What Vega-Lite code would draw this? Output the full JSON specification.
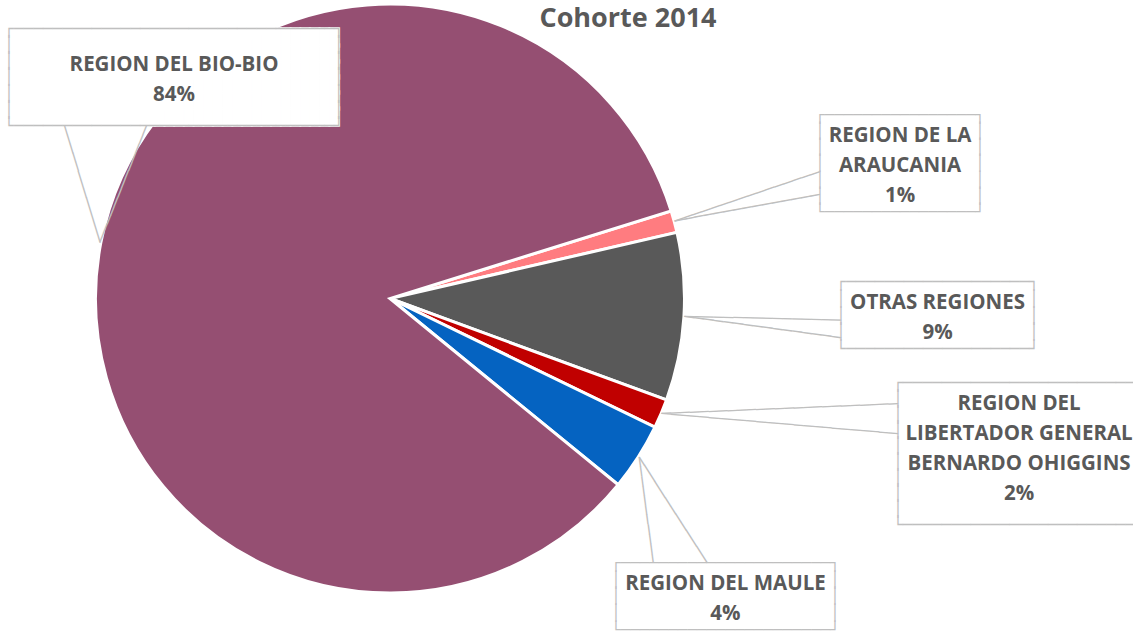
{
  "$schema": "https://vega.github.io/schema/vega-lite/v6.json",
  "width": 780,
  "height": 597,
  "autosize": {"type": "none"},
  "padding": {"left": 0, "top": 0, "right": 353, "bottom": 34},
  "background": "white",
  "config": {"view": {"stroke": null}},
  "title": {"text": "Cohorte 2014", "font": "Open Sans", "fontSize": 27, "fontWeight": "bold", "color": "#595959", "anchor": "middle", "frame": "group", "offset": 0, "baseline": "alphabetic", "dx": 238, "dy": 56},
  "data": {"values": [
    {"region": "REGION DE LA ARAUCANIA", "lineas": "REGION DE LA|ARAUCANIA", "valor": 1.2, "orden": 1},
    {"region": "OTRAS REGIONES", "lineas": "OTRAS REGIONES", "valor": 9.2, "orden": 2},
    {"region": "REGION DEL LIBERTADOR GENERAL BERNARDO OHIGGINS", "lineas": "REGION DEL|LIBERTADOR GENERAL|BERNARDO OHIGGINS", "valor": 1.6, "orden": 3},
    {"region": "REGION DEL MAULE", "lineas": "REGION DEL MAULE", "valor": 3.7, "orden": 4},
    {"region": "REGION DEL BIO-BIO", "lineas": "REGION DEL BIO-BIO", "valor": 84.3, "orden": 5}
  ]},
  "transform": [
    {"stack": "valor", "groupby": [], "sort": [{"field": "orden", "order": "ascending"}], "as": ["t0", "t1"]},
    {"calculate": "(datum.t0 + datum.t1) / 2", "as": "mid"},
    {"calculate": "split(datum.lineas + '|' + format(datum.valor / 100, '.0%'), '|')", "as": "etiqueta"}
  ],
  "layer": [
    {
      "mark": {"type": "arc", "outerRadius": 294.5, "stroke": "white", "strokeWidth": 3},
      "encoding": {
        "theta": {"field": "t0", "type": "quantitative", "stack": null, "scale": {"domain": [0, 100], "range": [1.2689, 7.5521]}},
        "theta2": {"field": "t1"},
        "color": {"field": "region", "type": "nominal", "legend": null,
          "scale": {"domain": ["REGION DE LA ARAUCANIA", "OTRAS REGIONES", "REGION DEL LIBERTADOR GENERAL BERNARDO OHIGGINS", "REGION DEL MAULE", "REGION DEL BIO-BIO"],
                    "range": ["#FF7C80", "#595959", "#C00000", "#0563C1", "#954F72"]}}
      }
    },
    {
      "transform": [{"filter": "datum.orden == 5"}],
      "mark": {"type": "text", "font": "DejaVu Sans Mono", "fontSize": 16.12, "lineHeight": 15.65, "fill": "white", "stroke": "white", "strokeWidth": 1.5, "align": "center", "baseline": "middle", "radius": 309.0, "thetaOffset": 0.6056, "dy": -39.1},
      "encoding": {"theta": {"field": "mid", "type": "quantitative"}, "text": {"value": [
        "██████████████████████████████████",
        "██████████████████████████████████",
        "██████████████████████████████████",
        "██████████████████████████████████",
        "██████████████████████████████████",
        "██████████████████████████████████"
      ]}}
    },
    {
      "transform": [{"filter": "datum.orden == 5"}],
      "mark": {"type": "text", "font": "DejaVu Sans Mono", "fontSize": 16.12, "lineHeight": 16.17, "fill": "#BFBFBF", "align": "center", "baseline": "middle", "radius": 309.0, "thetaOffset": 0.6056, "dy": -48.5},
      "encoding": {"theta": {"field": "mid", "type": "quantitative"}, "text": {"value": [
        "┌─────────────────────────────────┐",
        "│\u00a0\u00a0\u00a0\u00a0\u00a0\u00a0\u00a0\u00a0\u00a0\u00a0\u00a0\u00a0\u00a0\u00a0\u00a0\u00a0\u00a0\u00a0\u00a0\u00a0\u00a0\u00a0\u00a0\u00a0\u00a0\u00a0\u00a0\u00a0\u00a0\u00a0\u00a0\u00a0\u00a0│",
        "│\u00a0\u00a0\u00a0\u00a0\u00a0\u00a0\u00a0\u00a0\u00a0\u00a0\u00a0\u00a0\u00a0\u00a0\u00a0\u00a0\u00a0\u00a0\u00a0\u00a0\u00a0\u00a0\u00a0\u00a0\u00a0\u00a0\u00a0\u00a0\u00a0\u00a0\u00a0\u00a0\u00a0│",
        "│\u00a0\u00a0\u00a0\u00a0\u00a0\u00a0\u00a0\u00a0\u00a0\u00a0\u00a0\u00a0\u00a0\u00a0\u00a0\u00a0\u00a0\u00a0\u00a0\u00a0\u00a0\u00a0\u00a0\u00a0\u00a0\u00a0\u00a0\u00a0\u00a0\u00a0\u00a0\u00a0\u00a0│",
        "│\u00a0\u00a0\u00a0\u00a0\u00a0\u00a0\u00a0\u00a0\u00a0\u00a0\u00a0\u00a0\u00a0\u00a0\u00a0\u00a0\u00a0\u00a0\u00a0\u00a0\u00a0\u00a0\u00a0\u00a0\u00a0\u00a0\u00a0\u00a0\u00a0\u00a0\u00a0\u00a0\u00a0│",
        "│\u00a0\u00a0\u00a0\u00a0\u00a0\u00a0\u00a0\u00a0\u00a0\u00a0\u00a0\u00a0\u00a0\u00a0\u00a0\u00a0\u00a0\u00a0\u00a0\u00a0\u00a0\u00a0\u00a0\u00a0\u00a0\u00a0\u00a0\u00a0\u00a0\u00a0\u00a0\u00a0\u00a0│",
        "└─────────────────────────────────┘"
      ]}}
    },
    {
      "transform": [{"filter": "datum.orden == 1"}],
      "mark": {"type": "text", "font": "DejaVu Sans Mono", "fontSize": 15.63, "lineHeight": 16.17, "fill": "#BFBFBF", "align": "center", "baseline": "middle", "radius": 527.6, "thetaOffset": 0.0054, "dy": -48.5},
      "encoding": {"theta": {"field": "mid", "type": "quantitative"}, "text": {"value": [
        "┌────────────────┐",
        "│\u00a0\u00a0\u00a0\u00a0\u00a0\u00a0\u00a0\u00a0\u00a0\u00a0\u00a0\u00a0\u00a0\u00a0\u00a0\u00a0│",
        "│\u00a0\u00a0\u00a0\u00a0\u00a0\u00a0\u00a0\u00a0\u00a0\u00a0\u00a0\u00a0\u00a0\u00a0\u00a0\u00a0│",
        "│\u00a0\u00a0\u00a0\u00a0\u00a0\u00a0\u00a0\u00a0\u00a0\u00a0\u00a0\u00a0\u00a0\u00a0\u00a0\u00a0│",
        "│\u00a0\u00a0\u00a0\u00a0\u00a0\u00a0\u00a0\u00a0\u00a0\u00a0\u00a0\u00a0\u00a0\u00a0\u00a0\u00a0│",
        "│\u00a0\u00a0\u00a0\u00a0\u00a0\u00a0\u00a0\u00a0\u00a0\u00a0\u00a0\u00a0\u00a0\u00a0\u00a0\u00a0│",
        "└────────────────┘"
      ]}}
    },
    {
      "transform": [{"filter": "datum.orden == 2"}],
      "mark": {"type": "text", "font": "DejaVu Sans Mono", "fontSize": 16.03, "lineHeight": 16.75, "fill": "#BFBFBF", "align": "center", "baseline": "middle", "radius": 547.8, "thetaOffset": -0.0314, "dy": -33.5},
      "encoding": {"theta": {"field": "mid", "type": "quantitative"}, "text": {"value": [
        "┌───────────────────┐",
        "│\u00a0\u00a0\u00a0\u00a0\u00a0\u00a0\u00a0\u00a0\u00a0\u00a0\u00a0\u00a0\u00a0\u00a0\u00a0\u00a0\u00a0\u00a0\u00a0│",
        "│\u00a0\u00a0\u00a0\u00a0\u00a0\u00a0\u00a0\u00a0\u00a0\u00a0\u00a0\u00a0\u00a0\u00a0\u00a0\u00a0\u00a0\u00a0\u00a0│",
        "│\u00a0\u00a0\u00a0\u00a0\u00a0\u00a0\u00a0\u00a0\u00a0\u00a0\u00a0\u00a0\u00a0\u00a0\u00a0\u00a0\u00a0\u00a0\u00a0│",
        "└───────────────────┘"
      ]}}
    },
    {
      "transform": [{"filter": "datum.orden == 3"}],
      "mark": {"type": "text", "font": "DejaVu Sans Mono", "fontSize": 16.08, "lineHeight": 15.75, "fill": "#BFBFBF", "align": "center", "baseline": "middle", "radius": 646.1, "thetaOffset": -0.1714, "dy": -63},
      "encoding": {"theta": {"field": "mid", "type": "quantitative"}, "text": {"value": [
        "┌────────────────────────┐",
        "│\u00a0\u00a0\u00a0\u00a0\u00a0\u00a0\u00a0\u00a0\u00a0\u00a0\u00a0\u00a0\u00a0\u00a0\u00a0\u00a0\u00a0\u00a0\u00a0\u00a0\u00a0\u00a0\u00a0\u00a0│",
        "│\u00a0\u00a0\u00a0\u00a0\u00a0\u00a0\u00a0\u00a0\u00a0\u00a0\u00a0\u00a0\u00a0\u00a0\u00a0\u00a0\u00a0\u00a0\u00a0\u00a0\u00a0\u00a0\u00a0\u00a0│",
        "│\u00a0\u00a0\u00a0\u00a0\u00a0\u00a0\u00a0\u00a0\u00a0\u00a0\u00a0\u00a0\u00a0\u00a0\u00a0\u00a0\u00a0\u00a0\u00a0\u00a0\u00a0\u00a0\u00a0\u00a0│",
        "│\u00a0\u00a0\u00a0\u00a0\u00a0\u00a0\u00a0\u00a0\u00a0\u00a0\u00a0\u00a0\u00a0\u00a0\u00a0\u00a0\u00a0\u00a0\u00a0\u00a0\u00a0\u00a0\u00a0\u00a0│",
        "│\u00a0\u00a0\u00a0\u00a0\u00a0\u00a0\u00a0\u00a0\u00a0\u00a0\u00a0\u00a0\u00a0\u00a0\u00a0\u00a0\u00a0\u00a0\u00a0\u00a0\u00a0\u00a0\u00a0\u00a0│",
        "│\u00a0\u00a0\u00a0\u00a0\u00a0\u00a0\u00a0\u00a0\u00a0\u00a0\u00a0\u00a0\u00a0\u00a0\u00a0\u00a0\u00a0\u00a0\u00a0\u00a0\u00a0\u00a0\u00a0\u00a0│",
        "│\u00a0\u00a0\u00a0\u00a0\u00a0\u00a0\u00a0\u00a0\u00a0\u00a0\u00a0\u00a0\u00a0\u00a0\u00a0\u00a0\u00a0\u00a0\u00a0\u00a0\u00a0\u00a0\u00a0\u00a0│",
        "│\u00a0\u00a0\u00a0\u00a0\u00a0\u00a0\u00a0\u00a0\u00a0\u00a0\u00a0\u00a0\u00a0\u00a0\u00a0\u00a0\u00a0\u00a0\u00a0\u00a0\u00a0\u00a0\u00a0\u00a0│",
        "└────────────────────────┘"
      ]}}
    },
    {
      "transform": [{"filter": "datum.orden == 4"}],
      "mark": {"type": "text", "font": "DejaVu Sans Mono", "fontSize": 15.82, "lineHeight": 16.75, "fill": "#BFBFBF", "align": "center", "baseline": "middle", "radius": 448.7, "thetaOffset": 0.158, "dy": -33.5},
      "encoding": {"theta": {"field": "mid", "type": "quantitative"}, "text": {"value": [
        "┌──────────────────────┐",
        "│\u00a0\u00a0\u00a0\u00a0\u00a0\u00a0\u00a0\u00a0\u00a0\u00a0\u00a0\u00a0\u00a0\u00a0\u00a0\u00a0\u00a0\u00a0\u00a0\u00a0\u00a0\u00a0│",
        "│\u00a0\u00a0\u00a0\u00a0\u00a0\u00a0\u00a0\u00a0\u00a0\u00a0\u00a0\u00a0\u00a0\u00a0\u00a0\u00a0\u00a0\u00a0\u00a0\u00a0\u00a0\u00a0│",
        "│\u00a0\u00a0\u00a0\u00a0\u00a0\u00a0\u00a0\u00a0\u00a0\u00a0\u00a0\u00a0\u00a0\u00a0\u00a0\u00a0\u00a0\u00a0\u00a0\u00a0\u00a0\u00a0│",
        "└──────────────────────┘"
      ]}}
    },
    {
      "transform": [{"filter": "datum.orden == 1"}],
      "mark": {"type": "text", "font": "DejaVu Sans Mono", "fontSize": 15.93, "fill": "#BFBFBF", "align": "left", "baseline": "middle", "radius": 295, "angle": 341.21},
      "encoding": {"theta": {"field": "mid", "type": "quantitative"}, "text": {"value": "────────────────"}}
    },
    {
      "transform": [{"filter": "datum.orden == 1"}],
      "mark": {"type": "text", "font": "DejaVu Sans Mono", "fontSize": 16.34, "fill": "#BFBFBF", "align": "left", "baseline": "middle", "radius": 295, "angle": 349.7},
      "encoding": {"theta": {"field": "mid", "type": "quantitative"}, "text": {"value": "───────────────"}}
    },
    {
      "transform": [{"filter": "datum.orden == 2"}],
      "mark": {"type": "text", "font": "DejaVu Sans Mono", "fontSize": 16.26, "fill": "#BFBFBF", "align": "left", "baseline": "middle", "radius": 295, "angle": 1.39},
      "encoding": {"theta": {"field": "mid", "type": "quantitative"}, "text": {"value": "────────────────"}}
    },
    {
      "transform": [{"filter": "datum.orden == 2"}],
      "mark": {"type": "text", "font": "DejaVu Sans Mono", "fontSize": 16.41, "fill": "#BFBFBF", "align": "left", "baseline": "middle", "radius": 295, "angle": 7.78},
      "encoding": {"theta": {"field": "mid", "type": "quantitative"}, "text": {"value": "────────────────"}}
    },
    {
      "transform": [{"filter": "datum.orden == 3"}],
      "mark": {"type": "text", "font": "DejaVu Sans Mono", "fontSize": 15.73, "fill": "#BFBFBF", "align": "left", "baseline": "middle", "radius": 295, "angle": 357.63},
      "encoding": {"theta": {"field": "mid", "type": "quantitative"}, "text": {"value": "─────────────────────────"}}
    },
    {
      "transform": [{"filter": "datum.orden == 3"}],
      "mark": {"type": "text", "font": "DejaVu Sans Mono", "fontSize": 15.77, "fill": "#BFBFBF", "align": "left", "baseline": "middle", "radius": 295, "angle": 4.88},
      "encoding": {"theta": {"field": "mid", "type": "quantitative"}, "text": {"value": "─────────────────────────"}}
    },
    {
      "transform": [{"filter": "datum.orden == 4"}],
      "mark": {"type": "text", "font": "DejaVu Sans Mono", "fontSize": 16.1, "fill": "#BFBFBF", "align": "left", "baseline": "middle", "radius": 295, "angle": 82.4},
      "encoding": {"theta": {"field": "mid", "type": "quantitative"}, "text": {"value": "───────────"}}
    },
    {
      "transform": [{"filter": "datum.orden == 4"}],
      "mark": {"type": "text", "font": "DejaVu Sans Mono", "fontSize": 16.06, "fill": "#BFBFBF", "align": "left", "baseline": "middle", "radius": 295, "angle": 57.2},
      "encoding": {"theta": {"field": "mid", "type": "quantitative"}, "text": {"value": "─────────────"}}
    },
    {
      "transform": [{"filter": "datum.orden == 5"}],
      "mark": {"type": "text", "font": "DejaVu Sans Mono", "fontSize": 15.55, "fill": "#BFBFBF", "align": "left", "baseline": "middle", "radius": 295, "angle": 253.1},
      "encoding": {"theta": {"field": "mid", "type": "quantitative"}, "text": {"value": "─────────────"}}
    },
    {
      "transform": [{"filter": "datum.orden == 5"}],
      "mark": {"type": "text", "font": "DejaVu Sans Mono", "fontSize": 16.02, "fill": "#BFBFBF", "align": "left", "baseline": "middle", "radius": 295, "angle": 291.8},
      "encoding": {"theta": {"field": "mid", "type": "quantitative"}, "text": {"value": "─────────────"}}
    },
    {
      "transform": [{"filter": "datum.orden == 1"}],
      "mark": {"type": "text", "font": "Open Sans", "fontWeight": "bold", "fontSize": 20.5, "lineHeight": 30, "fill": "#595959", "align": "center", "baseline": "middle", "radius": 527.6, "thetaOffset": 0.0054, "dy": -27.5},
      "encoding": {"theta": {"field": "mid", "type": "quantitative"}, "text": {"field": "etiqueta"}}
    },
    {
      "transform": [{"filter": "datum.orden == 2"}],
      "mark": {"type": "text", "font": "Open Sans", "fontWeight": "bold", "fontSize": 20.5, "lineHeight": 30, "fill": "#595959", "align": "center", "baseline": "middle", "radius": 547.8, "thetaOffset": -0.0314, "dy": -12.5},
      "encoding": {"theta": {"field": "mid", "type": "quantitative"}, "text": {"field": "etiqueta"}}
    },
    {
      "transform": [{"filter": "datum.orden == 3"}],
      "mark": {"type": "text", "font": "Open Sans", "fontWeight": "bold", "fontSize": 20.5, "lineHeight": 30, "fill": "#595959", "align": "center", "baseline": "middle", "radius": 646.1, "thetaOffset": -0.1714, "dy": -42.5},
      "encoding": {"theta": {"field": "mid", "type": "quantitative"}, "text": {"field": "etiqueta"}}
    },
    {
      "transform": [{"filter": "datum.orden == 4"}],
      "mark": {"type": "text", "font": "Open Sans", "fontWeight": "bold", "fontSize": 20.5, "lineHeight": 30, "fill": "#595959", "align": "center", "baseline": "middle", "radius": 448.7, "thetaOffset": 0.158, "dy": -12.5},
      "encoding": {"theta": {"field": "mid", "type": "quantitative"}, "text": {"field": "etiqueta"}}
    },
    {
      "transform": [{"filter": "datum.orden == 5"}],
      "mark": {"type": "text", "font": "Open Sans", "fontWeight": "bold", "fontSize": 20.5, "lineHeight": 30, "fill": "#595959", "align": "center", "baseline": "middle", "radius": 309.0, "thetaOffset": 0.6056, "dy": -12.5},
      "encoding": {"theta": {"field": "mid", "type": "quantitative"}, "text": {"field": "etiqueta"}}
    }
  ]
}
